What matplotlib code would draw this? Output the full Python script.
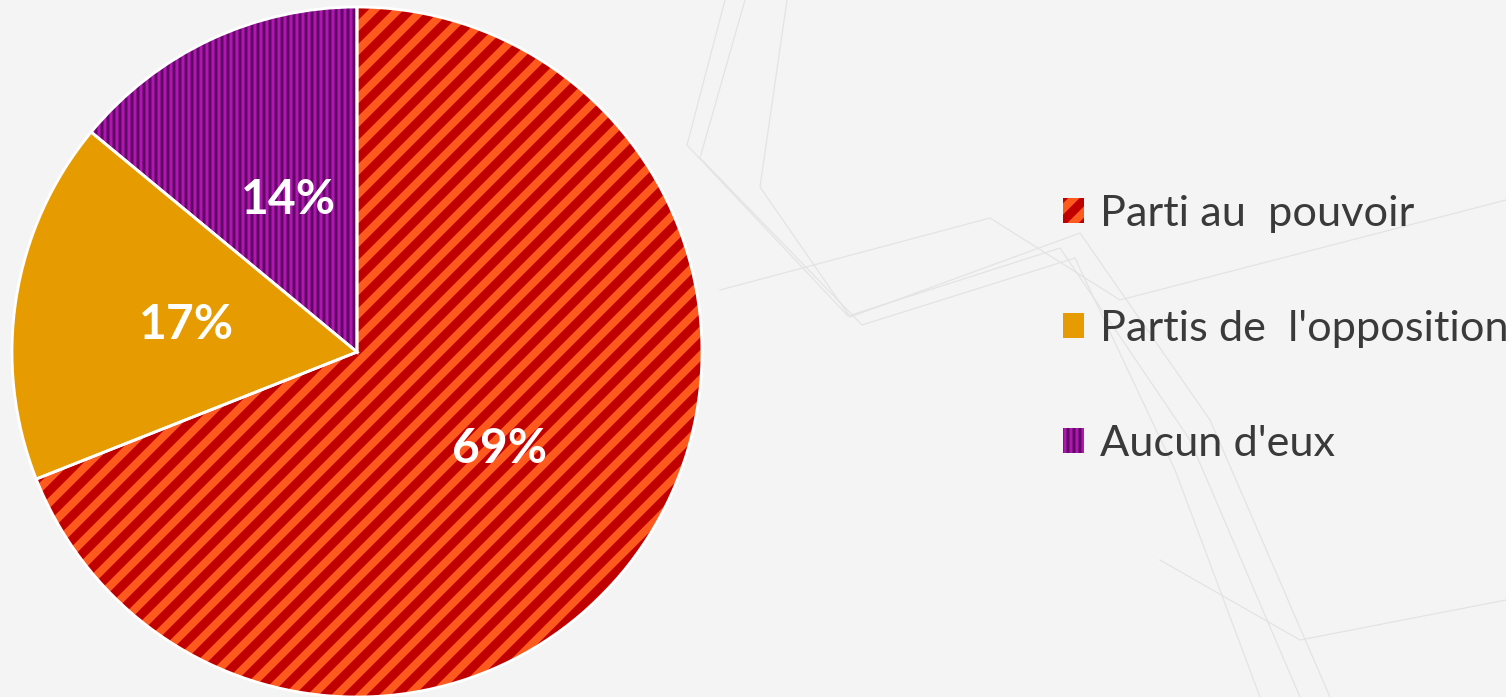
import matplotlib
matplotlib.use("Agg")
import matplotlib.pyplot as plt
from matplotlib.lines import Line2D

# ---- data ----
labels = ["Parti au  pouvoir", "Partis de  l'opposition", "Aucun d'eux"]
values = [69, 17, 14]

# ---- style ----
base_colors = ["#c00000", "#e69c00", "#5c0a62"]
stripe_colors = ["#ff5a1e", "#e69c00", "#b314b3"]
hatches = ["//", "", "||||"]
bg = "#f4f4f4"

plt.rcParams['font.family'] = ['Lato', 'DejaVu Sans']
plt.rcParams['hatch.linewidth'] = 4.0

DPI = 144
fig = plt.figure(figsize=(1506 / DPI, 697 / DPI), dpi=DPI, facecolor=bg)

# faint decorative background lines
deco = fig.add_axes([0, 0, 1, 1], zorder=0)
deco.set_xlim(0, 1506)
deco.set_ylim(697, 0)
deco.axis("off")
paths = [
    [(787, 0), (760, 187), (850, 317), (1080, 233), (1210, 420), (1330, 697)],
    [(725, 0), (687, 145), (848, 316), (1060, 248), (1190, 440), (1300, 697)],
    [(745, 0), (700, 158), (862, 325), (1075, 258), (1175, 470), (1260, 697)],
    [(720, 290), (990, 218), (1120, 300), (1506, 200)],
    [(1160, 560), (1300, 640), (1506, 600)],
]
for p in paths:
    xs, ys = zip(*p)
    deco.add_line(Line2D(xs, ys, color="#e3e3e3", lw=0.6))

ax = fig.add_axes([12 / 1506, 0, 690 / 1506, 690 / 697], zorder=2)
wedges, texts, autotexts = ax.pie(
    values, colors=base_colors, startangle=90, counterclock=False,
    autopct="%.0f%%", pctdistance=0.5,
    textprops=dict(color="white", fontsize=24, fontweight="bold"),
    wedgeprops=dict(linewidth=0),
)
for w, sc, h in zip(wedges, stripe_colors, hatches):
    w.set_edgecolor(sc)
    w.set_hatch(h)
    w.set_linewidth(0)
hl = [4.0, 1.0, 1.5]
for w, lw in zip(wedges, hl):
    if hasattr(w, "set_hatch_linewidth"):
        w.set_hatch_linewidth(lw)
for t in autotexts:
    t.set_zorder(5)

# outline
ax.pie(values, startangle=90, counterclock=False,
       wedgeprops=dict(facecolor="none", edgecolor="white", linewidth=1.4))

# manual placement of the small slice label (best-fit style)
autotexts[2].set_position((-0.2, 0.44))

ax.set_xlim(-1, 1)
ax.set_ylim(-1, 1)
ax.set_aspect("equal")
ax.axis("off")

leg = fig.legend(wedges, labels, loc="center left",
                 bbox_to_anchor=(1024 / 1506, 1 - 329 / 697),
                 frameon=False, fontsize=21.6, handlelength=0.5, handleheight=0.5,
                 handletextpad=0.35, labelspacing=1.78, labelcolor="#3a3a3a")
handles = getattr(leg, "legend_handles", None) or getattr(leg, "legendHandles", [])
for hnd, lw in zip(handles, hl):
    if hasattr(hnd, "set_hatch_linewidth"):
        hnd.set_hatch_linewidth(lw)

fig.savefig("out.png", dpi=DPI, facecolor=bg)
